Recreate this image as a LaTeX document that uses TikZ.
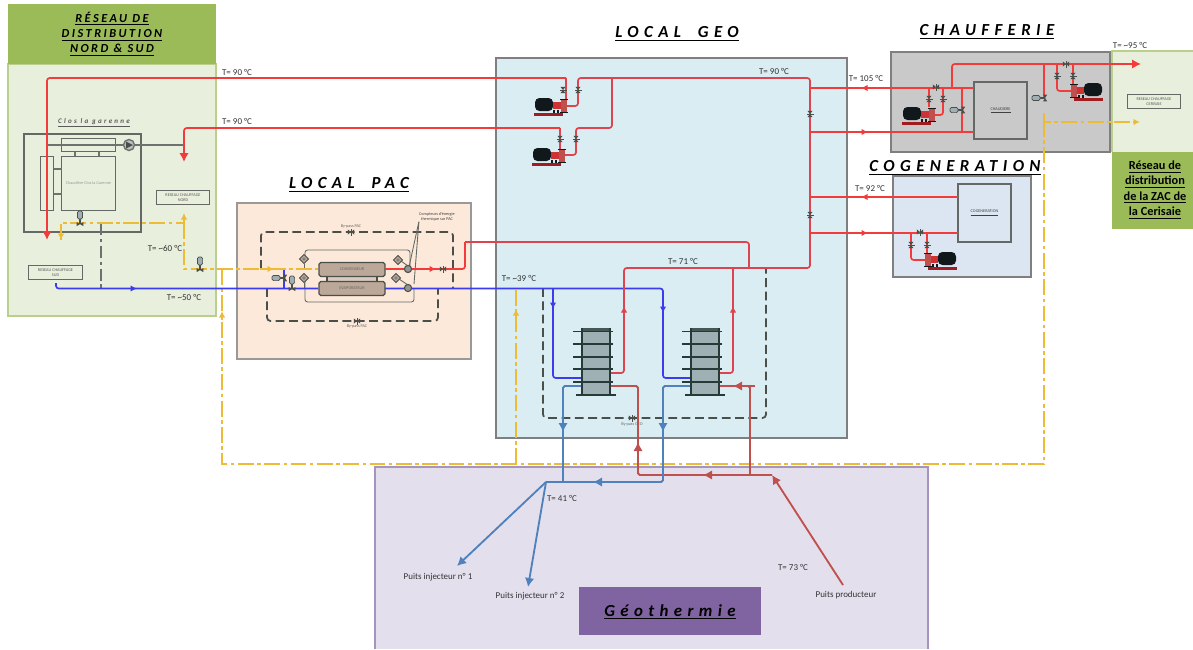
\documentclass[tikz,border=0pt]{standalone}
\usepackage{fontspec}
\usepackage{tikz}
\usetikzlibrary{arrows.meta}
\setmainfont{Carlito}
\newfontfamily\titrefont[LetterSpace=32]{Carlito}
\newfontfamily\titreresfont[LetterSpace=20]{Carlito}
\definecolor{rouge}{HTML}{F23B3B}
\definecolor{rougegeo}{HTML}{DE4450}
\definecolor{brique}{HTML}{C0504D}
\definecolor{bleu}{HTML}{3B3BF0}
\definecolor{acier}{HTML}{4F81BD}
\definecolor{jaune}{HTML}{EDBB35}
\definecolor{grisf}{HTML}{4A4F4A}
\definecolor{grism}{HTML}{7F7F7F}
\definecolor{verts}{HTML}{E9EFDD}
\definecolor{vertf}{HTML}{9BBB59}
\definecolor{saumon}{HTML}{FCE9DA}
\definecolor{ciel}{HTML}{DAEDF3}
\definecolor{grisz}{HTML}{C9C9C9}
\definecolor{azur}{HTML}{DCE6F2}
\definecolor{lilas}{HTML}{E4DFEC}
\definecolor{violet}{HTML}{8064A2}
\definecolor{bordeaux}{HTML}{A01C20}
\definecolor{noirp}{HTML}{10181C}
\definecolor{brun}{HTML}{BCA898}
\definecolor{grisplaque}{HTML}{9FB0B5}
\definecolor{vertnoir}{HTML}{263A38}
\newcommand{\titre}[1]{\underline{\titrefont\bfseries\itshape #1}}
\newcommand{\titreres}[1]{\underline{\titreresfont\bfseries\itshape #1}}
\tikzset{
  zone/.style={line width=0.7pt},
  trouge/.style={rouge,line width=0.95pt,rounded corners=1.5pt},
  tgeo/.style={rougegeo,line width=0.95pt,rounded corners=1.5pt},
  tbrique/.style={brique,line width=1.05pt,rounded corners=1pt},
  tbleu/.style={bleu,line width=0.95pt,rounded corners=1.5pt},
  tacier/.style={acier,line width=1.05pt,rounded corners=1pt},
  tjaune/.style={jaune,line width=0.95pt,dash pattern=on 9pt off 2pt on 2pt off 2pt},
  tgris/.style={grisf!80,line width=0.8pt},
  boucle/.style={grisf,line width=1pt,dash pattern=on 5pt off 2.6pt,rounded corners=2pt},
  fin/.style={grisf!85,line width=0.5pt,rounded corners=1.5pt},
  fl/.style={-{Latex[length=1.8mm,width=1.9mm]}},
  flp/.style={-{Latex[length=1.3mm,width=1.3mm]}},
  temp/.style={font=\fontsize{5.1}{6}\selectfont,text=black!80},
  titrezone/.style={font=\fontsize{9.6}{11}\selectfont,text=black,inner sep=0pt},
  mini/.style={font=\fontsize{2.4}{3}\selectfont,text=black!60,inner sep=0pt,align=center},
  boiteres/.style={draw=grisf!85,line width=0.55pt,minimum width=1.07cm,minimum height=0.27cm,inner sep=0pt,align=center,font=\fontsize{2.4}{3}\selectfont,text=black!65},
  vanne/.pic={
    \fill[grisf] (-3.2,-2.6)--(3.2,2.6)--(3.2,-2.6)--(-3.2,2.6)--cycle;
    \fill[grisf] (-0.5,-3.5) rectangle (0.5,3.5);
  },
  vanneact/.pic={
    \fill[grisf] (-3.4,3.2)--(3.4,-1)--(3.4,3.2)--(-3.4,-1)--cycle;
    \fill[grisf] (-0.6,-5) rectangle (0.6,1);
    \draw[grisf,fill=grisplaque,line width=0.4pt,rounded corners=0.8pt] (-2.6,-12) rectangle (2.6,-4);
  },
  pompe/.pic={
    \fill[bordeaux] (-30,8.3) rectangle (-1,10.6);
    \fill[noirp,rounded corners=2.5pt] (-29,-7) rectangle (-11,6);
    \fill[rouge!85!black] (-11,-3) rectangle (-3,4);
    \fill[noirp] (-11,5) rectangle (-9,8.3);
    \fill[noirp] (-7,5) rectangle (-5,8.3);
    \fill[brique] (-3.5,-5) rectangle (2.5,7);
    \fill[noirp] (-4.5,-6.5) rectangle (3.5,-5);
    \fill[noirp] (-4.5,7) rectangle (3.5,8.3);
  },
  sonde/.pic={
    \draw[grisf,fill=brun,line width=0.5pt] (0,-4.5)--(4.5,0)--(0,4.5)--(-4.5,0)--cycle;
    \fill[grisf!70] (0,0) circle (1.8);
  },
  compteur/.pic={
    \draw[grisf,fill=grisf!60,line width=0.6pt] (0,0) circle (3.6);
  },
  echangeur/.pic={
    \fill[grisplaque] (0,0) rectangle (28,67);
    \fill[vertnoir!85] (0,0) rectangle (28,2.5);
    \foreach \ypl in {3.5,16,29,41,54} \draw[vertnoir,line width=1pt] (-9,\ypl)--(31,\ypl);
    \draw[vertnoir,line width=1.2pt] (0,0)--(0,67);
    \draw[vertnoir,line width=1.2pt] (28,0)--(28,67);
    \draw[vertnoir,line width=1.3pt] (-6,67)--(34,67);
  },
}
\begin{document}
\begin{tikzpicture}[x=0.02cm,y=-0.02cm]
  \useasboundingbox (0,0) rectangle (1193,649);

  \filldraw[zone,fill=verts,draw=vertf!70] (8,64) rectangle (216,316);
  \fill[vertf] (8,4) rectangle (216,64);
  \filldraw[zone,fill=saumon,draw=grism!80] (237,203) rectangle (471,359);
  \filldraw[zone,fill=ciel,draw=grism] (496,58) rectangle (847,438);
  \filldraw[zone,fill=grisz,draw=grism] (891,52) rectangle (1110,152);
  \filldraw[zone,fill=azur,draw=grism] (893,176) rectangle (1031,277);
  \fill[verts] (1112,51) rectangle (1193,152);
  \draw[zone,vertf!70] (1193,51)--(1112,51)--(1112,152);
  \fill[vertf] (1112,152) rectangle (1193,229);
  \fill[lilas] (375,467) rectangle (928,649);
  \draw[zone,violet!70] (375,649)--(375,467)--(928,467)--(928,649);
  \fill[violet] (579,587) rectangle (761,635);

  \node[titrezone,align=center,font=\fontsize{7}{8.6}\selectfont] (titreres) at (112,34) {\titreres{RÉSEAU DE}\\\titreres{DISTRIBUTION}\\\titreres{NORD \& SUD}};
  \node[titrezone] (titregeo) at (677,34) {\titre{LOCAL\quad GEO}};
  \node[titrezone] (titrepac) at (349,185) {\titre{LOCAL\quad PAC}};
  \node[titrezone] (titrechauf) at (987,32) {\titre{CHAUFFERIE}};
  \node[titrezone] (titrecogen) at (955,168) {\titre{COGENERATION}};
  \node[titrezone] (titregeoth) at (670,612) {\titre{Géothermie}};
  \node[inner sep=0pt,align=center,font=\fontsize{7}{8.7}\selectfont\bfseries] (titrezac) at (1155,190) {\underline{Réseau de}\\\underline{distribution}\\\underline{de la ZAC de}\\\underline{la Cerisaie}};

  \draw[grisf!85,line width=0.6pt] (24,134) rectangle (141,232);
  \node[inner sep=0pt,font=\fontsize{4}{4.5}\selectfont\bfseries\itshape,text=black!65] (nomclos) at (94,123) {\underline{\titrefont Clos la garenne}};
  \node[draw=grisf!85,line width=0.55pt,minimum width=1.08cm,minimum height=0.26cm,inner sep=0pt] (ballon) at (88.5,145) {};
  \node[mini,draw=grisf!85,line width=0.55pt,minimum width=1.08cm,minimum height=1.08cm,text=black!40] (chaudclos) at (88.5,183) {Chaudière Clos la Garenne};
  \node[draw=grisf!85,line width=0.55pt,minimum width=0.26cm,minimum height=1.08cm,inner sep=0pt] (lateral) at (47,183) {};
  \draw[tgris] (75,152)--(75,156);
  \draw[tgris] (99,152)--(99,156);
  \draw[tgris] (54,169)--(62,169);
  \draw[tgris] (54,194)--(62,194);
  \draw[tgris] (47,145)--(184,145);
  \draw[tgris,fill=black!25] (129,145) circle (5.5);
  \fill[grisf] (126,141.5)--(133,145)--(126,148.5)--cycle;
  \draw[tgris,dash pattern=on 7pt off 2pt on 2pt off 2pt] (101,223)--(101,288);

  \node[boiteres] (resnord) at (183,197.5) {RESEAU CHAUFFAGE\\NORD};
  \node[boiteres] (ressud) at (55.5,272.5) {RESEAU CHAUFFAGE\\SUD};
  \node[boiteres] (rescer) at (1154,101.5) {RESEAU CHAUFFAGE\\CERISAIE};

  \draw[draw=grisf,line width=0.6pt,fill=brun!60] (327,276) rectangle (377,282);
  \node[mini,draw=grisf,line width=0.7pt,fill=brun,minimum width=1.32cm,minimum height=0.28cm,rounded corners=1pt] (condens) at (352,269.5) {CONDENSEUR};
  \node[mini,draw=grisf,line width=0.7pt,fill=brun,minimum width=1.32cm,minimum height=0.28cm,rounded corners=1pt] (evapo) at (352,288.5) {EVAPORATEUR};
  \node[mini] (bypasspac) at (351,226) {By-pass PAC};
  \node[mini] (bypasspacb) at (357,326) {By-pass PAC};
  \node[mini,text=black!75] (compteurs) at (437,217) {Compteurs d'énergie\\thermique sur PAC};
  \node[mini] (bypassgeo) at (632,424) {By-pass GEO};
  \node[mini,draw=grisf!85,line width=0.7pt,fill=grisz,minimum width=1.06cm,minimum height=1.14cm,text=black!75] (chaudiere) at (1000.5,110.5) {\underline{CHAUDIERE}};
  \node[mini,draw=grisf!85,line width=0.7pt,fill=azur,minimum width=1.06cm,minimum height=1.16cm,text=black!75] (cogen) at (984.5,213) {\underline{COGENERATION}};

  \node[temp] (t90a) at (237,72) {T= 90 °C};
  \node[temp] (t90b) at (237,121) {T= 90 °C};
  \node[temp] (t90c) at (774,71) {T= 90 °C};
  \node[temp] (t60) at (165,248) {T= \textasciitilde60 °C};
  \node[temp] (t50) at (184,297) {T= \textasciitilde50 °C};
  \node[temp] (t39) at (519,278) {T= \textasciitilde39 °C};
  \node[temp] (t71) at (683,261) {T= 71 °C};
  \node[temp] (t105) at (866,78) {T= 105 °C};
  \node[temp] (t92) at (870,188) {T= 92 °C};
  \node[temp] (t95) at (1130,45) {T= \textasciitilde95 °C};
  \node[temp] (t41) at (562,498) {T= 41 °C};
  \node[temp] (t73) at (793,567) {T= 73 °C};
  \node[temp] (puitsa) at (438,577) {Puits injecteur n° 1};
  \node[temp] (puitsb) at (530,596) {Puits injecteur n° 2};
  \node[temp] (puitsp) at (846,595) {Puits producteur};

  \draw[boucle] (261,269)--(261,232)--(453,232)--(453,288);
  \draw[boucle] (267,288)--(267,321)--(438,321)--(438,288);
  \draw[boucle] (543,288)--(543,418)--(766,418)--(766,268);
  \draw[fin] (305,262)--(305,250)--(410,250)--(410,269);
  \draw[fin] (305,281)--(305,302)--(414,302)--(414,288);
  \draw[fin] (401,261)--(408,266);
  \draw[fin] (399,279)--(408,285);
  \draw[fin] (304,264)--(304,269);
  \draw[fin] (304,283)--(304,288);
  \draw[fin] (compteurs.south west)--(409,267);
  \draw[fin] (compteurs.south west)--(414,284);

  \draw[tjaune] (61,240)--(61,223)--(184,223);
  \draw[tjaune,flp] (184,223)--(184,213);
  \draw[tjaune] (184,223)--(184,269)--(318,269);
  \draw[tjaune] (222,269)--(222,464)--(1044,464)--(1044,122);
  \draw[tjaune,flp] (1044,113)--(1044,122)--(1140,122);
  \draw[tjaune] (516,464)--(516,289);
  \foreach \xa/\ya/\xb/\yb in {61/230/61/240,222/320/222/311,516/320/516/309,260/269/274/269}
    \draw[jaune,line width=0.9pt,flp] (\xa,\ya)--(\xb,\yb);

  \draw[tbleu] (56,283)--(56,288.5)--(318,288.5);
  \draw[tbleu] (284,270)--(284,288.5);
  \draw[tbleu] (385,288.5)--(663,288.5)--(663,378)--(691,378);
  \draw[tbleu] (553,288.5)--(553,378)--(582,378);
  \foreach \xa/\ya/\xb/\yb in {125/288.5/137/288.5,553/298/553/309,663/298/663/313}
    \draw[bleu,line width=0.9pt,flp] (\xa,\ya)--(\xb,\yb);

  \draw[trouge] (566,78)--(47,78)--(47,230);
  \draw[trouge,fl] (47,200)--(47,240);
  \draw[trouge] (560,128)--(184,128)--(184,152);
  \draw[trouge,fl] (184,140)--(184,162);
  \draw[tgeo] (566,78)--(566,100);
  \draw[tgeo] (560,128)--(560,150);
  \draw[tgeo] (567,106)--(578,106)--(578,78)--(810,78)--(810,268)--(624,268)--(624,373)--(610,373);
  \draw[tgeo] (612,78)--(612,128)--(576,128)--(576,155)--(564,155);
  \draw[tgeo] (733,268)--(733,373)--(719,373);
  \draw[tgeo] (749,268)--(749,242)--(465,242);
  \draw[trouge] (465,242)--(465,269)--(385,269);
  \draw[trouge] (810,88)--(974,88);
  \draw[trouge] (810,132)--(974,132);
  \draw[trouge] (810,197)--(958,197);
  \draw[trouge] (810,233)--(958,233);
  \draw[trouge] (962,88)--(962,132);
  \draw[trouge] (952,88)--(952,64)--(1130,64);
  \draw[trouge,fl] (1120,64)--(1141,64);
  \draw[trouge] (1044,64)--(1044,98);
  \draw[trouge] (929,88)--(929,107);
  \draw[trouge] (943,88)--(943,115)--(933,115);
  \draw[trouge] (1073,64)--(1073,85);
  \draw[trouge] (1057,64)--(1057,91)--(1072,91);
  \draw[trouge] (911,233)--(911,260)--(925,260);
  \draw[trouge] (927,233)--(927,255);
  \foreach \xa/\ya/\xb/\yb in {880/88/861/88,850/132/868/132,880/197/861/197,850/233/868/233,425/269/436/269}
    \draw[rouge,line width=0.9pt,flp] (\xa,\ya)--(\xb,\yb);
  \foreach \xa/\ya/\xb/\yb in {624/325/624/306,733/325/733/306}
    \draw[rougegeo,line width=0.9pt,flp] (\xa,\ya)--(\xb,\yb);

  \coordinate (sourcep) at (843,585);
  \coordinate (nourrice) at (772,475);
  \coordinate (departb) at (546,482);
  \draw[tbrique] (nourrice)--(638,475)--(638,386)--(610,386);
  \draw[tbrique] (750,475)--(750,386)--(719,386);
  \draw[tbrique,fl] (sourcep)--(nourrice);
  \foreach \xa/\ya/\xb/\yb in {725/475/703/475,638/465/638/442,755/386/733/386}
    \draw[brique,line width=1pt,fl] (\xa,\ya)--(\xb,\yb);
  \draw[tacier] (582,386)--(563,386)--(563,482);
  \draw[tacier] (691,386)--(663,386)--(663,482)--(departb);
  \draw[tacier,fl] (departb)--(457,566);
  \draw[tacier,fl] (departb)--(528,587);
  \foreach \xa/\ya/\xb/\yb in {563/410/563/432,663/410/663/432,625/482/593/482}
    \draw[acier,line width=1pt,fl] (\xa,\ya)--(\xb,\yb);

  \pic at (582,328) {echangeur};
  \pic at (691,328) {echangeur};
  \pic at (564,105) {pompe};
  \pic at (562,155) {pompe};
  \pic at (932,114) {pompe};
  \pic[xscale=-1] at (1073,90) {pompe};
  \pic[xscale=-1] at (927,259) {pompe};
  \foreach \xv/\yv in {563/90,578/90,560/139,576/139,810/114,810/215,929/99,943/99,1057/76,1073/76,911/245,927/245}
    \pic[rotate=90] at (\xv,\yv) {vanne};
  \foreach \xv/\yv in {936/87,1066/64,920/232,351/232,357/321,632/418,443/269}
    \pic at (\xv,\yv) {vanne};
  \pic at (80,223) {vanneact};
  \pic at (200,269) {vanneact};
  \pic at (292,288) {vanneact};
  \pic[rotate=90] at (962,110) {vanneact};
  \pic[rotate=90] at (1044,98) {vanneact};
  \pic[rotate=90] at (284,278) {vanneact};
  \foreach \xs/\ys in {304/259,304/278,398/260,396/278}
    \pic at (\xs,\ys) {sonde};
  \pic at (408,269) {compteur};
  \pic at (408,288) {compteur};
\end{tikzpicture}
\end{document}
